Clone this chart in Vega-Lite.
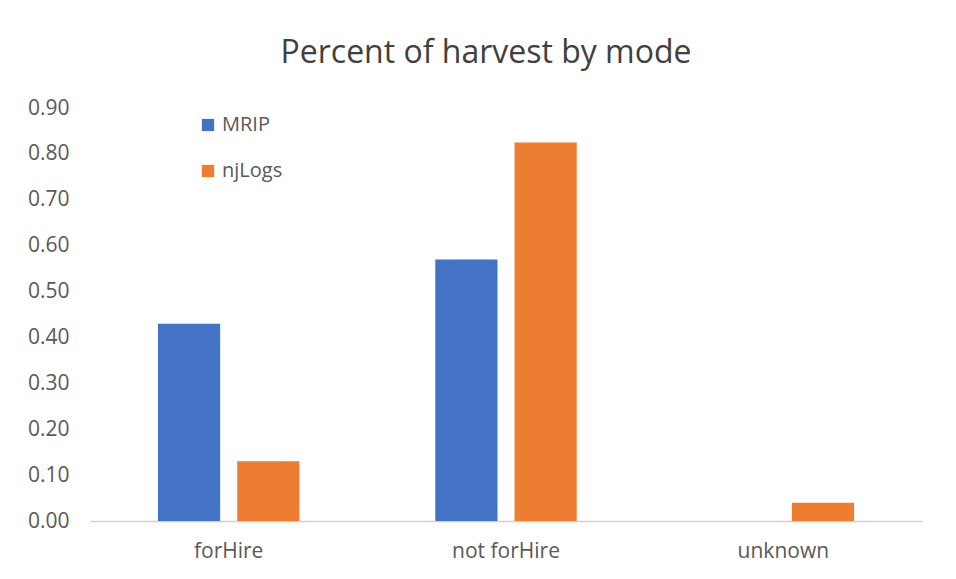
{
  "$schema": "https://vega.github.io/schema/vega-lite/v6.json",
  "autosize": "none",
  "width": 832,
  "height": 413,
  "padding": {"left": 90, "top": 108, "right": 34, "bottom": 58},
  "background": "white",
  "title": {
    "text": "Percent of harvest by mode",
    "font": "Open Sans",
    "fontSize": 32,
    "fontWeight": "normal",
    "color": "#404040",
    "anchor": "middle",
    "dx": -20,
    "offset": 27
  },
  "data": {
    "values": [
      {"mode": "forHire", "source": "MRIP", "share": 0.43},
      {"mode": "forHire", "source": "njLogs", "share": 0.13},
      {"mode": "not forHire", "source": "MRIP", "share": 0.57},
      {"mode": "not forHire", "source": "njLogs", "share": 0.825},
      {"mode": "unknown", "source": "MRIP", "share": 0},
      {"mode": "unknown", "source": "njLogs", "share": 0.04}
    ]
  },
  "mark": {"type": "bar"},
  "encoding": {
    "x": {
      "field": "mode",
      "type": "nominal",
      "sort": ["forHire", "not forHire", "unknown"],
      "scale": {"paddingInner": 0.49, "paddingOuter": 0.245},
      "axis": {
        "title": null,
        "labelAngle": 0,
        "labelFont": "Open Sans",
        "labelFontSize": 21,
        "labelColor": "#595959",
        "labelPadding": 19,
        "ticks": false,
        "domainColor": "#d0d0d0",
        "domainWidth": 1.5
      }
    },
    "xOffset": {
      "field": "source",
      "type": "nominal",
      "scale": {"paddingInner": 0.215, "paddingOuter": 0}
    },
    "y": {
      "field": "share",
      "type": "quantitative",
      "scale": {"domain": [0, 0.9], "nice": false},
      "axis": {
        "title": null,
        "values": [0, 0.1, 0.2, 0.3, 0.4, 0.5, 0.6, 0.7, 0.8, 0.9],
        "format": ".2f",
        "grid": false,
        "domain": false,
        "ticks": false,
        "labelFont": "Open Sans",
        "labelFontSize": 21,
        "labelColor": "#595959",
        "labelPadding": 21
      }
    },
    "color": {
      "field": "source",
      "type": "nominal",
      "scale": {"domain": ["MRIP", "njLogs"], "range": ["#4472C4", "#ED7D31"]},
      "legend": {
        "title": null,
        "orient": "none",
        "legendX": 108,
        "legendY": 7,
        "symbolType": "square",
        "symbolSize": 150,
        "symbolStrokeWidth": 0,
        "labelFont": "Open Sans",
        "labelFontSize": 20,
        "labelColor": "#595959",
        "labelOffset": 4,
        "rowPadding": 26
      }
    }
  },
  "config": {"view": {"stroke": null}}
}
